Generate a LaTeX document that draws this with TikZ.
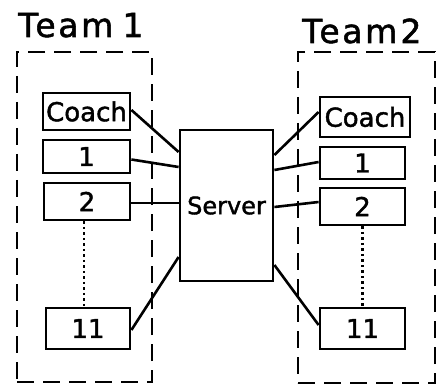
\documentclass[tikz,border=0pt]{standalone}
\usepackage{fontspec}
\setmainfont{DejaVu Sans}
\newfontfamily\handfont[FakeBold=1.6]{DejaVu Sans}
\newfontfamily\titlefont[FakeBold=1.6,LetterSpace=8]{DejaVu Sans}
\begin{document}
\begin{tikzpicture}[x=1pt,y=-1pt,
  player/.style={draw, line width=2.8pt, inner sep=0pt, font=\handfont\fontsize{26}{30}\selectfont},
  frame/.style={draw, line width=2.8pt, dash pattern=on 17pt off 9pt, inner sep=0pt},
  link/.style={line width=2.6pt},
  gap/.style={line width=2.4pt, dash pattern=on 2.5pt off 3pt},
  title/.style={inner sep=0pt, anchor=base west, font=\titlefont\fontsize{33}{40}\selectfont}]
\useasboundingbox (0,0) rectangle (438,387);

% team frames and titles
\node[frame, minimum width=135pt, minimum height=330pt] (team1) at (84.5,217) {};
\node[frame, minimum width=137pt, minimum height=331pt] (team2) at (366.5,217.5) {};
\node[title] (t1) at (18,37) {Team\kern-4pt\ 1};
\node[title] (t2) at (302,43) {Team\kern-10pt\ 2};

% server
\node[draw, line width=2.8pt, minimum width=93pt, minimum height=151pt, inner sep=0pt,
      font=\handfont\fontsize{24}{30}\selectfont] (server) at (226.5,205.5) {Server};

% team 1 members
\node[player, minimum width=87pt, minimum height=37pt] (c1) at (86.5,111.5) {Coach};
\node[player, minimum width=87pt, minimum height=33pt] (a1) at (86.5,156.5) {1};
\node[player, minimum width=86pt, minimum height=37pt] (a2) at (87,201.5) {2};
\node[player, minimum width=84pt, minimum height=41pt] (a11) at (88,328.5) {11};

% team 2 members
\node[player, minimum width=90pt, minimum height=40pt] (c2) at (365,117) {Coach};
\node[player, minimum width=85pt, minimum height=32pt] (b1) at (362.5,163) {1};
\node[player, minimum width=85pt, minimum height=37pt] (b2) at (362.5,206.5) {2};
\node[player, minimum width=85pt, minimum height=41pt] (b11) at (362.5,328.5) {11};

% omitted players
\draw[gap] ([xshift=-3pt]a2.south) -- ([xshift=-4pt]a11.north);
\draw[gap] (b2.south) -- (b11.north);

% links to the server
\draw[link] ([yshift=1.5pt]c1.east) -- ([yshift=53.5pt]server.west);
\draw[link] ([yshift=-3pt]a1.east) -- ([yshift=38.5pt]server.west);
\draw[link] ([yshift=-1.5pt]a2.east) -- ([yshift=2.5pt]server.west);
\draw[link] ([yshift=-1.5pt]a11.east) -- ([yshift=-51.5pt]server.west);

\draw[link] ([yshift=5pt]c2.west) -- ([yshift=50.5pt]server.east);
\draw[link] ([yshift=1pt]b1.west) -- ([yshift=35.5pt]server.east);
\draw[link] ([yshift=4.5pt]b2.west) -- ([yshift=-1.5pt]server.east);
\draw[link] ([yshift=3.5pt]b11.west) -- ([yshift=-59.5pt]server.east);
\end{tikzpicture}
\end{document}
